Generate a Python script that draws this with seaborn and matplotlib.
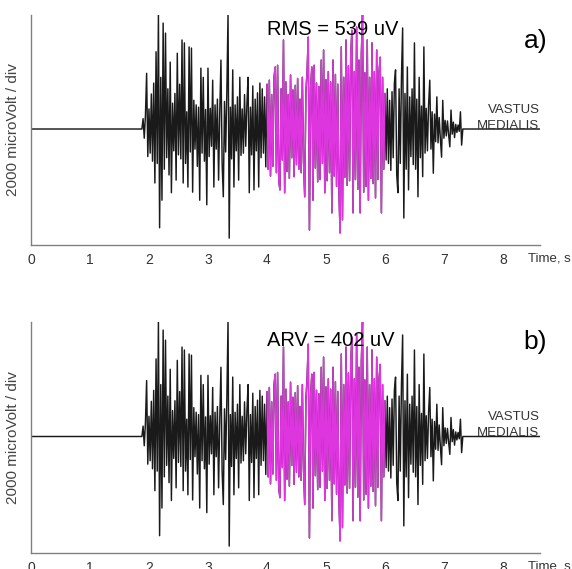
import matplotlib
matplotlib.use("Agg")
import matplotlib.pyplot as plt
import numpy as np
import pandas as pd
import seaborn as sns

# EMG recording, vastus medialis, values in microvolt, sampled every 0.02 s
rec_start = 0.0
rec_end = 8.63
burst_start = 1.88
sample_step = 0.02
window = (4.0, 6.0)

onset = [0, 180, -160, 240, 970, -480]
sec_2 = [350, -420, 610, -560, 800, -940, 1345, -600, 2000, -1720,
         900, -1240, 1845, -700, 1670, -500, 700, -800, 1165, -1110,
         450, -380, 620, -890, 1320, -450, 780, -520, 1550, -940,
         1500, -600, 300, -1010, 1430, -400, 1410, -1100, 500, -350,
         420, -650, 380, -1240, 1060, -420, 900, -560, 340, -1320]
sec_3 = [1060, -480, 360, -300, 850, -1010, 420, -350, 520, -890,
         300, 1200, -600, -1180, 480, -400, 650, 2000, -1900, 380,
         -520, 1030, -1010, 420, -380, 560, -890, 900, -460, 350,
         -420, 600, -300, 440, 900, -1110, 380, -450, 750, -1060,
         520, -380, 630, -1010, 800, -500, 700, -420, 560, -660]
sec_4 = [780, -700, 850, -820, 600, -650, 900, 1080, -760, 1110,
         -900, -1060, 700, -540, 1550, -1110, 820, -740, 600, -860,
         940, -500, 680, -830, 760, -620, 880, -700, 520, -760,
         900, -580, -1180, 640, 1000, 1600, -1760, 720, 1080, -1240,
         1110, -680, 800, -920, 740, -880, 1200, -600, 1375, -1110]
sec_5 = [860, -900, 1000, -760, 820, -1460, 1200, -820, 950, -1000,
         780, -1100, -1810, 1430, -1580, 900, -840, 1550, -980, 1100,
         -900, 1300, 1720, -1460, 1000, -880, 1775, -1050, 1200, -1460,
         1300, 2000, -1100, 980, -1000, 1550, -1240, 900, -860, 1500,
         -950, 1000, -1200, 1375, -880, 1000, 1250, -1460, 900, -700]
sec_6 = [620, -540, 700, -600, 500, -720, 650, -500, 800, 1030,
         -800, -1110, 700, -600, 900, 1760, -1550, 620, -700, 1080,
         -1060, 560, -480, 700, -620, 1500, -700, 520, -1180, 900,
         -500, 400, -830, 1430, -420, 360, -380, 420, 850, -350,
         300, -770, 260, -220, 560, -240, 200, -180, -490, 500]
tail = [-160, 150, -120, 140, -100, -310, 330, -90, 120, -150,
        80, -60, 70, -40, 300, -280, 0]

panels = [("RMS = 539 uV", "a)"), ("ARV = 402 uV", "b)")]

burst = onset + sec_2 + sec_3 + sec_4 + sec_5 + sec_6 + tail
times = np.round(burst_start + sample_step * np.arange(len(burst)), 2)
emg = pd.DataFrame({
    "time": np.concatenate([[rec_start], times, [rec_end]]),
    "uV": np.concatenate([[0], burst, [0]]),
})
sel = emg[(emg["time"] >= window[0]) & (emg["time"] <= window[1])]

sns.set_style("white")
plt.rcParams["font.family"] = ["Liberation Sans", "DejaVu Sans"]

fig = plt.figure(figsize=(5.72, 5.69), dpi=100)
boxes = [[0.0542, 0.5694, 0.890, 0.4042], [0.0542, 0.0281, 0.890, 0.4060]]
text_y = [(1740, 0.887), (1670, 0.913)]

for (stat, tag), box, (sy, ty) in zip(panels, boxes, text_y):
    ax = fig.add_axes(box)
    sns.lineplot(data=emg, x="time", y="uV", color="#1a1a1a", linewidth=1.05,
                 estimator=None, ax=ax)
    sns.lineplot(data=sel, x="time", y="uV", color="#de36de", linewidth=1.05,
                 estimator=None, ax=ax)
    ax.set_xlim(rec_start, rec_end)
    ax.set_ylim(-2020, 1985)
    sns.despine(ax=ax)
    for s in ["left", "bottom"]:
        ax.spines[s].set_color("#808080")
        ax.spines[s].set_linewidth(1.0)
    ax.set_xticks(range(0, 9))
    ax.set_yticks([])
    ax.tick_params(axis="x", direction="inout", length=4, width=0.8,
                   color="#808080", labelsize=10, labelcolor="#333333", pad=4)
    ax.set_xlabel("")
    ax.set_ylabel("2000 microVolt / div", fontsize=11, color="#444444",
                  labelpad=8)
    ax.text(window[0], sy, stat, fontsize=14.5, color="black",
            ha="left", va="center")
    ax.text(1.014, ty, tag, transform=ax.transAxes, fontsize=19,
            color="black", ha="right", va="center")
    ax.text(8.62, 280, "VASTUS", fontsize=9.5, color="#333333",
            ha="right", va="baseline")
    ax.text(8.62, 0, "MEDIALIS", fontsize=9.5, color="#333333",
            ha="right", va="baseline")
    ax.text(0.976, -0.057, "Time, s", transform=ax.transAxes, fontsize=9.5,
            color="#333333", ha="left", va="center")

fig.savefig("out.png", dpi=100)
